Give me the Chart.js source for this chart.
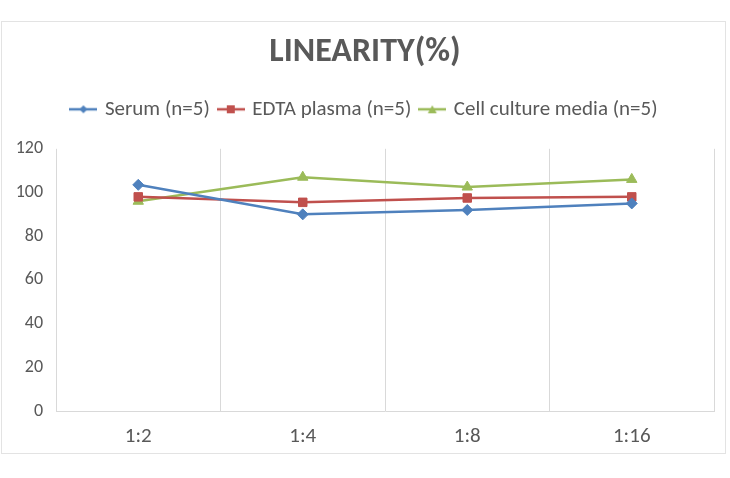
<!DOCTYPE html>
<html><head><meta charset="utf-8">
<script src="https://cdn.jsdelivr.net/npm/chart.js@4"></script>
<style>
html,body{margin:0;padding:0;background:#fff;}
#wrap{position:relative;width:730px;height:478px;}
#frame{position:absolute;left:1px;top:21px;width:723px;height:431px;border:1px solid #e3e3e3;}
canvas{position:absolute;left:0;top:0;}
</style></head>
<body><div id="wrap"><div id="frame"></div><canvas id="c" width="730" height="478"></canvas></div>
<script>
const categories = ['1:2', '1:4', '1:8', '1:16'];
const serum = [103.5, 90, 92, 95];
const edtaPlasma = [98, 95.5, 97.5, 98];
const cellCulture = [96, 107, 102.5, 106];
const seriesNames = ['Serum (n=5)', 'EDTA plasma (n=5)', 'Cell culture media (n=5)'];
const yTicks = [0, 20, 40, 60, 80, 100, 120];
const titleText = 'LINEARITY(%)';

const FONT = 'Carlito, Calibri, Lato, sans-serif';
const colors = ['#4F81BD', '#C0504D', '#9BBB59'];
const styles = ['rectRot', 'rect', 'triangle'];
const radii = [5.5, 6, 6];

function legendIcon(color, style) {
  const cv = document.createElement('canvas');
  cv.width = 28; cv.height = 14;
  const g = cv.getContext('2d');
  g.strokeStyle = color; g.lineWidth = 2.5;
  g.beginPath(); g.moveTo(0, 7); g.lineTo(28, 7); g.stroke();
  g.fillStyle = color;
  g.beginPath();
  if (style === 'rectRot') { g.moveTo(14, 3); g.lineTo(18, 7); g.lineTo(14, 11); g.lineTo(10, 7); }
  else if (style === 'rect') { g.rect(10, 3, 8, 8); }
  else { g.moveTo(14, 3); g.lineTo(18.5, 11); g.lineTo(9.5, 11); }
  g.closePath(); g.fill();
  return cv;
}
const icons = colors.map((c, i) => legendIcon(c, styles[i]));

function makeSpacer(position, size) {
  return {
    position: position, weight: 0, fullSize: false,
    options: { stack: undefined, stackWeight: 1 },
    top: 0, left: 0, right: 0, bottom: 0, width: 0, height: 0,
    isHorizontal() { return position === 'top' || position === 'bottom'; },
    update(maxWidth, maxHeight) {
      if (this.isHorizontal()) { this.width = maxWidth; this.height = size; }
      else { this.width = size; this.height = maxHeight; }
    },
    getPadding() { return { top: 0, left: 0, right: 0, bottom: 0 }; },
    draw() {}
  };
}
const spacerPlugin = {
  id: 'spacers',
  beforeInit(chart) {
    Chart.layouts.addBox(chart, makeSpacer('top', 19));
    Chart.layouts.addBox(chart, makeSpacer('right', 16));
  }
};

const dataSets = [serum, edtaPlasma, cellCulture].map((d, i) => ({
  label: seriesNames[i],
  data: d,
  borderColor: colors[i],
  backgroundColor: colors[i],
  borderWidth: 2.5,
  pointStyle: styles[i],
  pointRadius: radii[i],
  pointHoverRadius: radii[i],
  pointBorderWidth: 1,
  tension: 0,
  fill: false
}));

new Chart(document.getElementById('c'), {
  type: 'line',
  data: { labels: categories, datasets: dataSets },
  plugins: [spacerPlugin],
  options: {
    responsive: false,
    animation: false,
    devicePixelRatio: 1,
    layout: { padding: { left: 0, right: 0, top: 0, bottom: 0 } },
    plugins: {
      tooltip: { enabled: false },
      title: {
        display: true, text: titleText, color: '#595959',
        font: { family: FONT, size: 34, weight: 'bold' },
        padding: { top: 32, bottom: 16 }
      },
      legend: {
        display: true, position: 'top',
        labels: {
          color: '#595959',
          font: { family: FONT, size: 21 },
          usePointStyle: true,
          pointStyleWidth: 22,
          padding: 10,
          generateLabels: (chart) => chart.data.datasets.map((ds, i) => ({
            text: ds.label, pointStyle: icons[i], fontColor: '#595959',
            strokeStyle: colors[i], fillStyle: colors[i], lineWidth: 0, datasetIndex: i, hidden: false
          }))
        }
      }
    },
    scales: {
      x: {
        offset: true,
        grid: { display: true, offset: true, color: '#d9d9d9', lineWidth: 1, drawTicks: false },
        border: { display: true, color: '#d9d9d9', width: 1 },
        ticks: { color: '#595959', font: { family: FONT, size: 21 }, padding: 13 },
        afterFit: (s) => { s.height = 67; }
      },
      y: {
        min: 0, max: 120,
        grid: { display: false, drawTicks: false },
        border: { display: false },
        afterBuildTicks: (s) => { s.ticks = yTicks.map(v => ({ value: v })); },
        ticks: { color: '#595959', font: { family: FONT, size: 18 }, padding: 13 },
        afterFit: (s) => { s.width = 56; }
      }
    }
  }
});
</script></body></html>
